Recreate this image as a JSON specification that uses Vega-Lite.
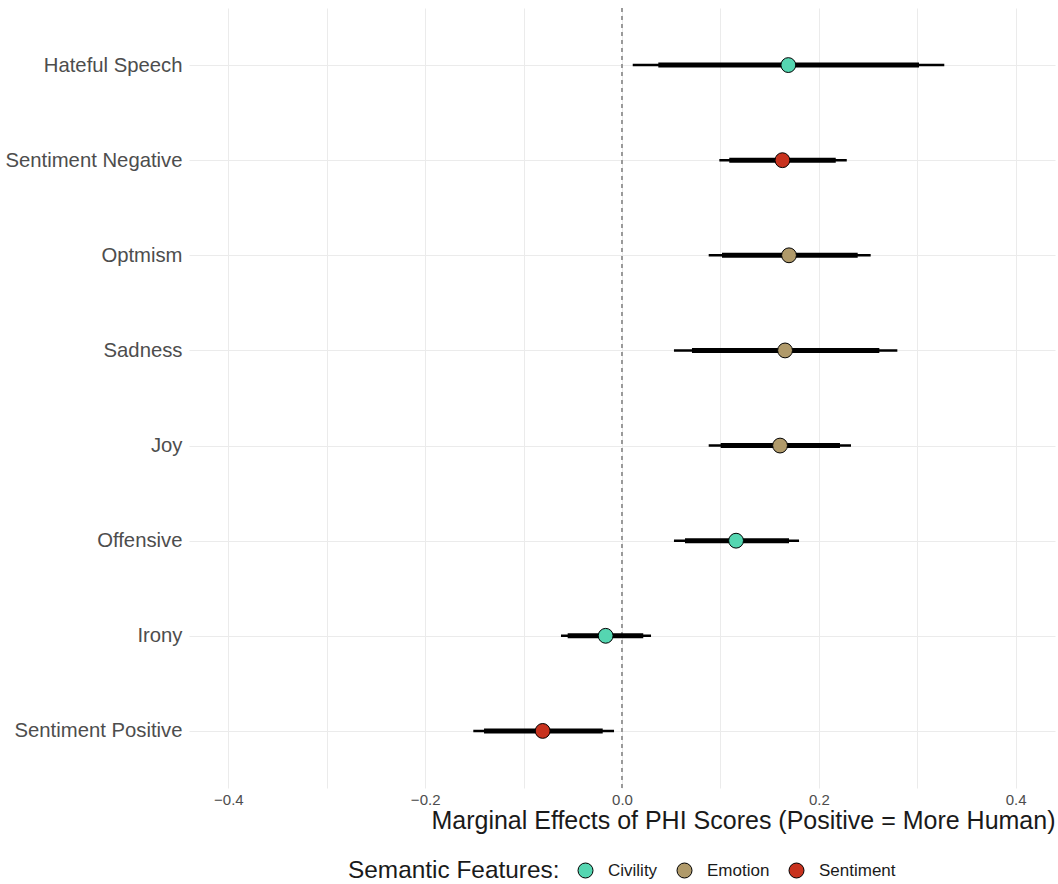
{
  "$schema": "https://vega.github.io/schema/vega-lite/v6.json",
  "autosize": "none",
  "width": 866,
  "height": 780,
  "padding": {"left": 189, "top": 8, "right": 3, "bottom": 96},
  "background": "white",
  "config": {
    "view": {"stroke": null},
    "font": "Liberation Sans",
    "axisX": {
      "domain": false, "ticks": false, "tickSize": 0,
      "grid": true, "gridColor": "#EBEBEB", "gridWidth": 1,
      "labelFontSize": 15, "labelColor": "#4D4D4D", "labelPadding": 4,
      "titleFontSize": 25, "titleFontWeight": "normal", "titleColor": "#1A1A1A",
      "titleAnchor": "end", "titlePadding": 1
    },
    "axisY": {
      "domain": false, "ticks": false, "tickSize": 0,
      "grid": true, "gridColor": "#EBEBEB", "gridWidth": 1,
      "labelFontSize": 20.3, "labelColor": "#4D4D4D", "labelPadding": 7,
      "title": null
    }
  },
  "data": {
    "values": [
      {"feature": "Hateful Speech", "group": "Civility", "est": 0.169, "lo95": 0.0109, "hi95": 0.3275, "lo90": 0.0369, "hi90": 0.3018},
      {"feature": "Sentiment Negative", "group": "Sentiment", "est": 0.163, "lo95": 0.0989, "hi95": 0.2284, "lo90": 0.109, "hi90": 0.2172},
      {"feature": "Optmism", "group": "Emotion", "est": 0.1697, "lo95": 0.0881, "hi95": 0.2527, "lo90": 0.1016, "hi90": 0.2395},
      {"feature": "Sadness", "group": "Emotion", "est": 0.1657, "lo95": 0.0528, "hi95": 0.2798, "lo90": 0.0711, "hi90": 0.2615},
      {"feature": "Joy", "group": "Emotion", "est": 0.1606, "lo95": 0.0881, "hi95": 0.2327, "lo90": 0.1003, "hi90": 0.2215},
      {"feature": "Offensive", "group": "Civility", "est": 0.1159, "lo95": 0.0528, "hi95": 0.1799, "lo90": 0.064, "hi90": 0.1697},
      {"feature": "Irony", "group": "Civility", "est": -0.0166, "lo95": -0.062, "hi95": 0.0295, "lo90": -0.0552, "hi90": 0.0216},
      {"feature": "Sentiment Positive", "group": "Sentiment", "est": -0.0806, "lo95": -0.1511, "hi95": -0.0081, "lo90": -0.1402, "hi90": -0.0196}
    ]
  },
  "layer": [
    {
      "mark": {"type": "rule", "color": "#9A9A9A", "strokeDash": [4, 4], "strokeWidth": 1.4},
      "encoding": {
        "x": {"datum": 0, "type": "quantitative", "scale": {"domain": [-0.44, 0.44], "nice": false, "zero": false}}
      }
    },
    {
      "mark": {"type": "rule", "color": "black", "strokeWidth": 2.6},
      "encoding": {
        "y": {"field": "feature", "type": "nominal", "sort": ["Hateful Speech", "Sentiment Negative", "Optmism", "Sadness", "Joy", "Offensive", "Irony", "Sentiment Positive"], "scale": {"type": "point", "padding": 0.6}},
        "x": {"field": "lo95", "type": "quantitative", "title": "Marginal Effects of PHI Scores (Positive = More Human)",
              "axis": {"values": [-0.4, -0.3, -0.2, -0.1, 0, 0.1, 0.2, 0.3, 0.4], "format": ".1f", "labelExpr": "abs(round(datum.value * 10)) % 2 == 1 ? '' : datum.label"}},
        "x2": {"field": "hi95"}
      }
    },
    {
      "mark": {"type": "rule", "color": "black", "strokeWidth": 5},
      "encoding": {
        "y": {"field": "feature", "type": "nominal", "sort": ["Hateful Speech", "Sentiment Negative", "Optmism", "Sadness", "Joy", "Offensive", "Irony", "Sentiment Positive"]},
        "x": {"field": "lo90", "type": "quantitative", "title": "Marginal Effects of PHI Scores (Positive = More Human)"},
        "x2": {"field": "hi90"}
      }
    },
    {
      "mark": {"type": "circle", "size": 220, "opacity": 1, "stroke": "black", "strokeWidth": 1},
      "encoding": {
        "y": {"field": "feature", "type": "nominal", "sort": ["Hateful Speech", "Sentiment Negative", "Optmism", "Sadness", "Joy", "Offensive", "Irony", "Sentiment Positive"]},
        "x": {"field": "est", "type": "quantitative", "title": "Marginal Effects of PHI Scores (Positive = More Human)"},
        "color": {
          "field": "group", "type": "nominal",
          "scale": {"domain": ["Civility", "Emotion", "Sentiment"], "range": ["#55D6B1", "#B09A6A", "#C8321E"]},
          "legend": {
            "title": "Semantic Features:",
            "orient": "none", "legendX": 159, "legendY": 854,
            "direction": "horizontal", "titleOrient": "left",
            "titleFontSize": 24.4, "titleFontWeight": "normal", "titleColor": "#1A1A1A",
            "titlePadding": 17, "titleBaseline": "middle", "titleLimit": 500,
            "labelFontSize": 17, "labelColor": "#1A1A1A", "labelOffset": 14, "labelLimit": 300,
            "columnPadding": 17,
            "symbolSize": 225, "symbolType": "circle", "symbolStrokeColor": "black", "symbolStrokeWidth": 1, "symbolOpacity": 1
          }
        }
      }
    }
  ]
}
